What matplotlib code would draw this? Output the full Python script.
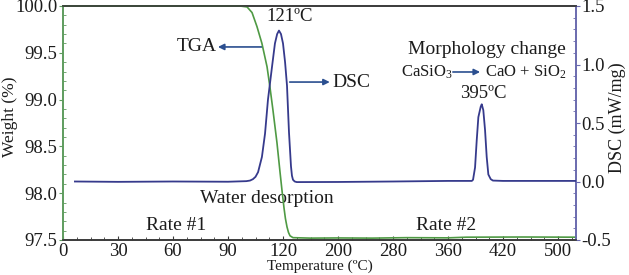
import numpy as np
import matplotlib
matplotlib.use("Agg")
import matplotlib.pyplot as plt
from matplotlib.ticker import FixedLocator, MultipleLocator, FormatStrFormatter

plt.rcParams['font.family'] = ['Liberation Serif', 'DejaVu Serif']
plt.rcParams['mathtext.fontset'] = 'custom'
plt.rcParams['mathtext.rm'] = 'Liberation Serif'
plt.rcParams['mathtext.it'] = 'Liberation Serif:italic'
plt.rcParams['axes.unicode_minus'] = False

# ---- data ----
tick_temps = [0, 30, 60, 90, 120, 200, 280, 360, 420, 500]
tick_labels = ["0", "30", "60", "90", "120", "200", "280", "360", "420", "500"]

tga_temp = [0, 96.5, 100.4, 103.1, 105.8, 108.5, 111.3, 112.9, 114.5, 116.7, 118.4,
            119.5, 121.5, 123.5, 125.8, 128.0, 130.2, 134.5, 160, 200, 250, 300, 360, 380, 450, 526]
tga_weight = [100.0, 100.0, 99.99, 99.93, 99.78, 99.60, 99.35, 99.13, 98.89, 98.54, 98.22,
              98.02, 97.84, 97.73, 97.64, 97.58, 97.545, 97.525, 97.52, 97.522, 97.52, 97.525, 97.523, 97.53, 97.532, 97.53]

dsc_temp = [6.5, 30, 60, 90, 100, 102.0, 103.6, 105.0, 106.4, 108.5, 110.2, 111.8, 114.0,
            115.6, 116.8, 117.8, 118.9, 120.0, 123.0, 125.8, 128.7, 131.6, 133.0, 134.5, 137.0,
            140, 200, 280, 360, 386.0, 387.3, 389.5, 391.3, 393.1, 395.7, 396.8, 398.5, 400.4,
            402.2, 404.0, 406.6, 409.0, 420, 460, 526]
dsc_value = [0.0, -0.003, 0.0, -0.002, 0.003, 0.008, 0.02, 0.04, 0.08, 0.21, 0.41, 0.70, 0.98,
             1.18, 1.26, 1.29, 1.26, 1.18, 1.02, 0.82, 0.42, 0.13, 0.05, 0.015, 0.0,
             -0.005, -0.004, 0.0, 0.005, 0.005, 0.015, 0.12, 0.35, 0.55, 0.64, 0.66, 0.61, 0.44,
             0.21, 0.06, 0.02, 0.008, 0.005, 0.005, 0.005]

# ---- scale: tick labels equally spaced ----
POS = np.arange(len(tick_temps), dtype=float)
TT = np.array(tick_temps, dtype=float)

def fwd(t):
    t = np.asarray(t, dtype=float)
    out = np.interp(t, TT, POS)
    out = np.where(t > TT[-1], POS[-1] + (t - TT[-1]) / (TT[-1] - TT[-2]), out)
    out = np.where(t < TT[0], (t - TT[0]) / (TT[1] - TT[0]), out)
    return out

def inv(p):
    p = np.asarray(p, dtype=float)
    out = np.interp(p, POS, TT)
    out = np.where(p > POS[-1], TT[-1] + (p - POS[-1]) * (TT[-1] - TT[-2]), out)
    out = np.where(p < POS[0], TT[0] + p * (TT[1] - TT[0]), out)
    return out

fig = plt.figure(figsize=(6.29, 2.75), dpi=100)
ax = fig.add_axes([63/629, 35/275, 513/629, 234/275])
ax.set_xscale('function', functions=(fwd, inv))
ax2 = ax.twinx()

tga_color = "#4f9a44"
dsc_color = "#363a8c"
txt_color = "#1c1c1c"

ax.plot(tga_temp, tga_weight, color=tga_color, lw=1.2, clip_on=False, zorder=5)
ax2.plot(dsc_temp, dsc_value, color=dsc_color, lw=1.3, zorder=5)

xmax = float(inv(9.327))
ax.set_xlim(0, xmax)
ax.set_ylim(97.5, 100.0)
ax2.set_ylim(-0.5, 1.5)

ax.set_xticks(tick_temps)
ax.set_xticklabels(tick_labels)
ax.xaxis.set_minor_locator(FixedLocator(inv(np.arange(0, 9.33, 0.25))))
ax.yaxis.set_major_locator(MultipleLocator(0.5))
ax.yaxis.set_minor_locator(MultipleLocator(0.1))
ax.yaxis.set_major_formatter(FormatStrFormatter('%.1f'))
ax2.yaxis.set_major_locator(MultipleLocator(0.5))
ax2.yaxis.set_minor_locator(MultipleLocator(0.1))
ax2.yaxis.set_major_formatter(FormatStrFormatter('%.1f'))

for a in (ax, ax2):
    a.spines['top'].set_color('#3a3a3a')
    a.spines['bottom'].set_color('#3a3a3a')
    a.spines['left'].set_color('#5e9c5e')
    a.spines['right'].set_color('#6a6aae')
    for s in a.spines.values():
        s.set_linewidth(1.2)

ax.tick_params(axis='x', which='major', direction='in', length=3, labelsize=13.5, pad=2,
               colors='#3a3a3a', labelcolor=txt_color)
ax.tick_params(axis='x', which='minor', direction='in', length=2, colors='#3a3a3a')
ax.tick_params(axis='y', which='major', direction='out', length=3, labelsize=13.5, pad=1,
               colors='#5e9c5e', labelcolor=txt_color)
ax.tick_params(axis='y', which='minor', direction='in', length=2, colors='#5e9c5e')
ax2.tick_params(axis='y', which='major', direction='out', length=3, labelsize=13.5, pad=1,
                colors='#6a6aae', labelcolor=txt_color)
ax2.tick_params(axis='y', which='minor', direction='in', length=2, colors='#6a6aae')

ax.set_xlabel("Temperature (ºC)", fontsize=11, color=txt_color, labelpad=0)
ax.set_ylabel("Weight (%)", fontsize=12.5, color=txt_color, va='center')
ax.yaxis.set_label_coords(-0.104, 0.526)
ax2.set_ylabel("DSC (mW/mg)", fontsize=13, color=txt_color, rotation=90, va='center')
ax2.yaxis.set_label_coords(1.080, 0.522)

def T(x, y, s, fs=14):
    ax.text(x, y, s, transform=ax.transAxes, ha='center', va='center',
            fontsize=fs, color=txt_color)

T(0.442, 0.953, "121ºC", 13.5)
T(0.261, 0.825, "TGA")
T(0.563, 0.675, "DSC")
T(0.826, 0.812, "Morphology change")
T(0.709, 0.718, r"CaSiO$_3$", 12)
T(0.901, 0.718, r"CaO + SiO$_2$", 12)
T(0.819, 0.628, "395ºC", 13.5)
T(0.398, 0.179, "Water desorption")
T(0.220, 0.064, "Rate #1")
T(0.747, 0.064, "Rate #2")

arrow_color = "#2b4f90"
def A(x0, y0, x1, y1):
    ax.annotate("", xy=(x1, y1), xytext=(x0, y0), xycoords='axes fraction',
                textcoords='axes fraction',
                arrowprops=dict(arrowstyle='-|>', color=arrow_color, lw=1.2,
                                mutation_scale=9, shrinkA=0, shrinkB=0))

A(0.388, 0.825, 0.302, 0.825)
A(0.442, 0.675, 0.520, 0.675)
A(0.760, 0.718, 0.813, 0.718)

fig.savefig("out.png", dpi=100)
